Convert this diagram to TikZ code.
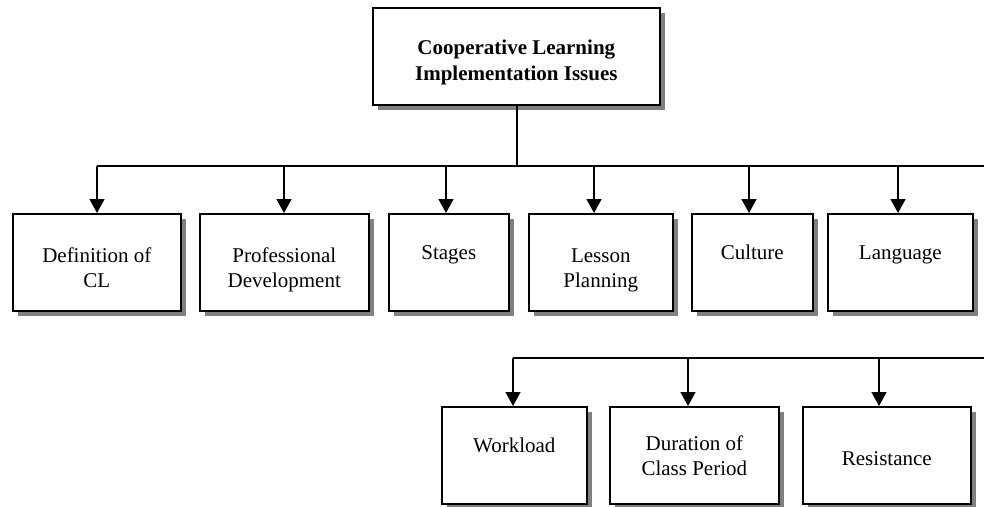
\documentclass[tikz,border=0pt]{standalone}
\usepackage{fontspec}
\setmainfont{Liberation Serif}
\usetikzlibrary{arrows.meta,shadows}
\newcommand\tl[1]{\begin{tabular}[t]{@{}c@{}}#1\end{tabular}}
\begin{document}
\begin{tikzpicture}[x=1pt,y=-1pt,
  box/.style={draw=black, line width=1.6pt, fill=white, inner sep=0pt, anchor=north west,
    font=\fontsize{21}{25}\selectfont, text height=47pt, text depth=50pt,
    drop shadow={shadow xshift=5pt, shadow yshift=-5pt, fill=black!50, opacity=1}},
  conn/.style={line width=1.6pt, draw=black},
  arr/.style={conn, -{Triangle[length=14pt,width=15pt]}}]
\useasboundingbox (0,0) rectangle (984,506);
% top
\node[box, minimum width=287pt, font=\bfseries\fontsize{21}{26}\selectfont] (top) at (372,7) {\tl{Cooperative Learning\\Implementation Issues}};
% row 1
\node[box, minimum width=168pt, text height=49pt, text depth=48pt] (b1) at (12,213) {\tl{Definition of\\CL}};
\node[box, minimum width=169pt, text height=49pt, text depth=48pt] (b2) at (199,213) {\tl{Professional\\Development}};
\node[box, minimum width=120pt, text height=46pt, text depth=51pt] (b3) at (388,213) {\tl{Stages}};
\node[box, minimum width=144pt, text height=49pt, text depth=48pt] (b4) at (528,213) {\tl{Lesson\\Planning}};
\node[box, minimum width=121pt, text height=46pt, text depth=51pt] (b5) at (691,213) {\tl{Culture}};
\node[box, minimum width=145pt, text height=46pt, text depth=51pt] (b6) at (827,213) {\tl{Language}};
% row 2
\node[box, minimum width=145pt, text height=46pt, text depth=51pt] (c1) at (441,406) {\tl{Workload}};
\node[box, minimum width=169pt, text height=44pt, text depth=53pt] (c2) at (609,406) {\tl{Duration of\\Class Period}};
\node[box, minimum width=168pt, text height=59pt, text depth=38pt] (c3) at (802,406) {\tl{Resistance}};
% bus 1
\coordinate (busL) at (97,166);
\coordinate (busR) at (984,166);
\coordinate (tx) at (517,166);
\draw[conn] (tx |- top.south) -- (tx);
\draw[conn] (busL) -- (busR);
\coordinate (a1) at (97,166);
\coordinate (a2) at (284,166);
\coordinate (a3) at (446,166);
\coordinate (a4) at (594,166);
\coordinate (a5) at (749,166);
\coordinate (a6) at (898,166);
\draw[arr] (a1) -- (a1 |- b1.north);
\draw[arr] (a2) -- (a2 |- b2.north);
\draw[arr] (a3) -- (a3 |- b3.north);
\draw[arr] (a4) -- (a4 |- b4.north);
\draw[arr] (a5) -- (a5 |- b5.north);
\draw[arr] (a6) -- (a6 |- b6.north);
% bus 2
\coordinate (bus2L) at (513,358);
\coordinate (bus2R) at (984,358);
\draw[conn] (bus2L) -- (bus2R);
\coordinate (d1) at (513,358);
\coordinate (d2) at (688,358);
\coordinate (d3) at (879,358);
\draw[arr] (d1) -- (d1 |- c1.north);
\draw[arr] (d2) -- (d2 |- c2.north);
\draw[arr] (d3) -- (d3 |- c3.north);
\end{tikzpicture}
\end{document}
